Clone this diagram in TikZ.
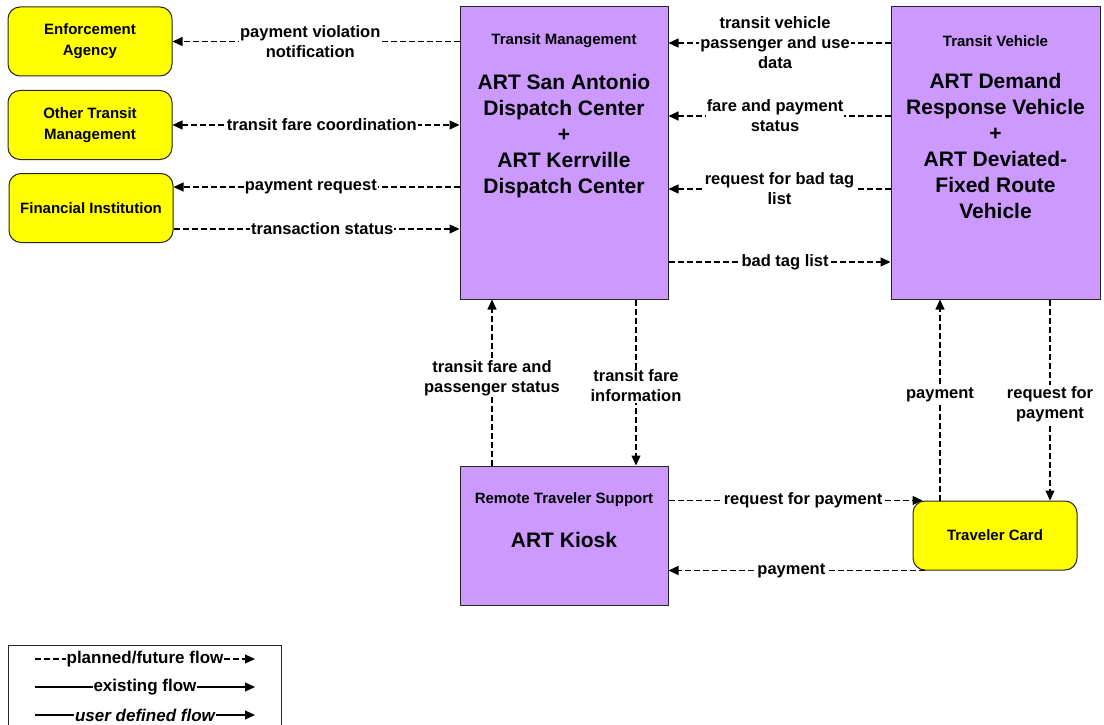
\documentclass[tikz,border=0pt]{standalone}
\usepackage{fontspec}
\setmainfont{Liberation Sans}
\usetikzlibrary{arrows.meta, positioning, shapes.geometric}
\usepackage{xcolor}
\definecolor{termyellow}{RGB}{255,255,0}
\definecolor{sysviolet}{RGB}{204,153,255}

\tikzset{
    termbox/.style={draw=black!85, line width=1pt, fill=termyellow, rounded corners=12pt,
        minimum width=164pt, minimum height=69pt, align=center,
        font=\bfseries\fontsize{15}{21}\selectfont},
    sysbox/.style={draw=black!85, line width=1pt, fill=sysviolet,
        minimum width=208pt, minimum height=292pt},
    syshead/.style={font=\bfseries\fontsize{15}{18}\selectfont},
    sysname/.style={align=center, font=\bfseries\fontsize{21}{26}\selectfont},
    tip/.tip={Triangle[length=10pt,width=9pt]},
    flow/.style={line width=1.2pt, dash pattern=on 6pt off 3pt, -tip},
    lbl/.style={fill=white, inner sep=1pt, align=center,
        font=\bfseries\fontsize{16.5}{20}\selectfont},
    leglbl/.style={lbl, font=\bfseries\fontsize{17}{20}\selectfont}
}

\begin{document}
\begin{tikzpicture}[x=1pt, y=-1pt]
    \useasboundingbox (0,0) rectangle (1104,725);

    % Terminators
    \node[termbox] (ea) at (90,41.5) {Enforcement\\Agency};
    \node[termbox] (otm) at (90,125) {Other Transit\\Management};
    \node[termbox] (fi) at (91,208) {Financial Institution};
    \node[termbox] (tc) at (995,535.5) {Traveler Card};

    % Subsystems
    \node[sysbox] (tm) at (564,153) {};
    \node[syshead] (tmhead) at (564,41) {Transit Management};
    \node[sysname] (tmname) at (564,136) {ART San Antonio\\Dispatch Center\\+\\ART Kerrville\\Dispatch Center};

    \node[sysbox, minimum width=209pt] (tv) at (995.5,153) {};
    \node[syshead] (tvhead) at (995.5,41) {Transit Vehicle};
    \node[sysname] (tvname) at (995.5,146) {ART Demand\\Response Vehicle\\+\\ART Deviated-\\Fixed Route\\Vehicle};

    \node[sysbox, minimum height=139pt] (kiosk) at (564,535.5) {};
    \node[syshead] (kioskhead) at (564,500) {Remote Traveler Support};
    \node[sysname] (kioskname) at (564,540) {ART Kiosk};

    % Flows on the left
    \coordinate (fiup) at ([yshift=21pt]fi.east);
    \coordinate (fidown) at ([yshift=-21pt]fi.east);
    \draw[flow] (tm.west |- ea.east) -- (ea.east)
        node[lbl, pos=0.52] {payment violation\\notification};
    \draw[flow, tip-tip] (otm.east) -- (tm.west |- otm.east)
        node[lbl, pos=0.52] {transit fare coordination};
    \draw[flow] (tm.west |- fiup) -- (fiup)
        node[lbl, pos=0.52] {payment request};
    \draw[flow] (fidown) -- (tm.west |- fidown)
        node[lbl, pos=0.52] {transaction status};

    % Flows between the subsystems
    \draw[flow] ([yshift=110pt]tv.west) -- ([yshift=110pt]tm.east)
        node[lbl, pos=0.52] {transit vehicle\\passenger and use\\data};
    \draw[flow] ([yshift=37pt]tv.west) -- ([yshift=37pt]tm.east)
        node[lbl, pos=0.52] {fare and payment\\status};
    \draw[flow] ([yshift=-36pt]tv.west) -- ([yshift=-36pt]tm.east)
        node[lbl, midway] {request for bad tag\\list};
    \draw[flow] ([yshift=-109pt]tm.east) -- ([yshift=-109pt]tv.west)
        node[lbl, pos=0.525] {bad tag list};

    % Vertical flows
    \draw[flow] ([xshift=-72pt]kiosk.north) -- ([xshift=-72pt]tm.south)
        node[lbl, pos=0.527] {transit fare and\\passenger status};
    \draw[flow] ([xshift=72pt]tm.south) -- ([xshift=72pt]kiosk.north)
        node[lbl, pos=0.52] {transit fare\\information};
    \draw[flow] ([xshift=-55pt]tc.north) -- ([xshift=-55.5pt]tv.south)
        node[lbl, pos=0.525] {payment};
    \draw[flow] ([xshift=54.5pt]tv.south) -- ([xshift=55pt]tc.north)
        node[lbl, pos=0.52] {request for\\payment};

    % Kiosk and card
    \draw[flow] (kiosk.east |- tc.north) -- ([xshift=10pt]tc.north west)
        node[lbl, pos=0.53] {request for payment};
    \draw[flow] ([xshift=12pt]tc.south west) -- (kiosk.east |- tc.south)
        node[lbl, pos=0.52] {payment};

    % Legend
    \node[draw=black!85, line width=1pt, minimum width=273pt, minimum height=90pt] (legend) at (144.5,690) {};
    \coordinate (la) at (35,659);
    \coordinate (lb) at (255,659);
    \coordinate (lc) at (35,687);
    \coordinate (ld) at (255,687);
    \coordinate (le) at (35,715);
    \coordinate (lf) at (255,715);
    \draw[flow] (la) -- (lb) node[leglbl, pos=0.5] {planned/future flow};
    \draw[flow, solid] (lc) -- (ld) node[leglbl, pos=0.5] {existing flow};
    \draw[flow, solid] (le) -- (lf) node[leglbl, pos=0.5, font=\bfseries\itshape\fontsize{17}{20}\selectfont] {user defined flow};
\end{tikzpicture}
\end{document}
